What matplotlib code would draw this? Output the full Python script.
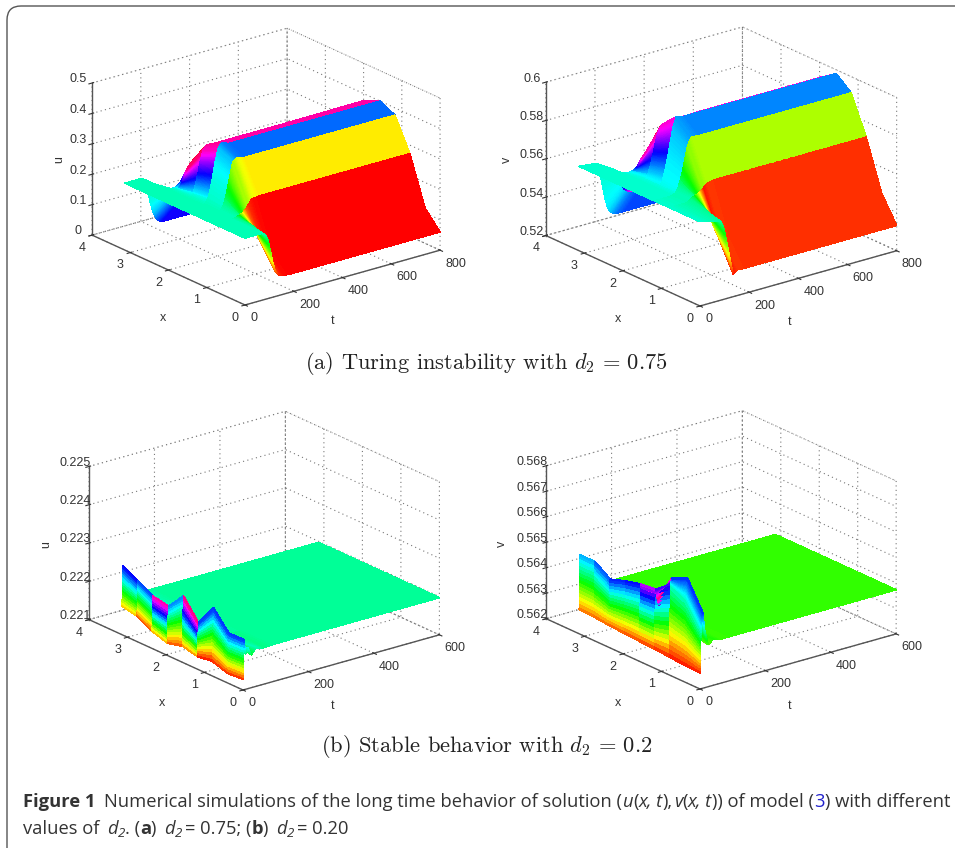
import numpy as np
import matplotlib
matplotlib.use('Agg')
import matplotlib.pyplot as plt
from matplotlib.patches import FancyBboxPatch
from matplotlib.transforms import IdentityTransform
from mpl_toolkits.mplot3d import proj3d

plt.rcParams.update({'font.family': ['Liberation Sans', 'DejaVu Sans'], 'grid.linestyle': (0, (1, 3)),
                     'grid.color': '#777777', 'grid.linewidth': 0.8})

x_nodes = [0, 0.39, 0.79, 1.18, 1.57, 1.96, 2.36, 2.75, 3.14]

# top row: one line per x node, one value per t
t_top = [0, 70, 85, 95, 105, 115, 125, 135, 150, 180, 300, 450, 600, 800]
u_top = [[.22, .22, .21, .19, .15, .11, .082, .07, .063, .06, .06, .06, .06, .06],
         [.22, .22, .22, .215, .2, .18, .155, .14, .125, .115, .115, .115, .115, .115],
         [.22, .22, .222, .225, .228, .232, .24, .25, .268, .272, .272, .272, .272, .272],
         [.22, .22, .224, .235, .26, .295, .335, .37, .382, .376, .376, .376, .376, .376],
         [.22, .22, .225, .24, .27, .31, .355, .39, .41, .40, .40, .40, .40, .40],
         [.22, .22, .224, .235, .26, .295, .335, .365, .38, .378, .378, .378, .379, .38],
         [.22, .22, .222, .225, .235, .25, .27, .285, .30, .30, .30, .30, .30, .30],
         [.22, .22, .215, .205, .19, .17, .155, .145, .14, .14, .14, .14, .14, .14],
         [.22, .22, .20, .17, .13, .10, .08, .068, .06, .06, .06, .06, .06, .06]]
v_top = [[.564, .562, .561, .558, .552, .545, .538, .5318, .5335, .5332, .5332, .5332, .5332, .5332],
         [.564, .563, .563, .562, .559, .555, .551, .548, .5465, .5465, .5465, .5465, .5465, .5465],
         [.564, .564, .565, .566, .5665, .567, .568, .569, .571, .572, .572, .572, .572, .572],
         [.564, .564, .565, .567, .571, .576, .582, .588, .592, .5915, .5915, .5915, .5915, .5915],
         [.564, .564, .565, .568, .573, .579, .586, .593, .599, .598, .598, .598, .598, .598],
         [.564, .564, .565, .567, .571, .576, .582, .587, .591, .592, .5925, .5925, .5925, .5925],
         [.564, .564, .564, .565, .566, .567, .569, .571, .573, .575, .575, .575, .575, .575],
         [.564, .564, .562, .559, .556, .553, .551, .550, .549, .549, .549, .549, .549, .549],
         [.564, .563, .558, .551, .544, .539, .536, .535, .534, .534, .534, .534, .534, .534]]

# bottom row
t_bot = [0, 3, 8, 15, 25, 40, 60, 90, 150, 300, 450, 600]
u_bot = [[.22128, .22231, .22192, .22206, .22186, .22201, .22195, .22197, .22197, .22197, .22197, .22197],
         [.22125, .22230, .22205, .22190, .22204, .22192, .22198, .22197, .22197, .22197, .22197, .22197],
         [.22138, .22278, .22240, .22225, .22205, .22195, .22198, .22197, .22197, .22197, .22197, .22197],
         [.22133, .22221, .22210, .22205, .22200, .22198, .22197, .22197, .22197, .22197, .22197, .22197],
         [.22142, .22273, .22245, .22230, .22215, .22205, .22200, .22197, .22197, .22197, .22197, .22197],
         [.22132, .22228, .22225, .22220, .22210, .22203, .22199, .22197, .22197, .22197, .22197, .22197],
         [.22145, .22236, .22230, .22222, .22212, .22204, .22200, .22197, .22197, .22197, .22197, .22197],
         [.22166, .22258, .22245, .22230, .22215, .22205, .22200, .22197, .22197, .22197, .22197, .22197],
         [.22174, .22279, .22260, .22240, .22220, .22207, .22200, .22197, .22197, .22197, .22197, .22197]]
v_bot = [[.56263, .56433, .56500, .56420, .56365, .56380, .56372, .56373, .56373, .56373, .56373, .56373],
         [.56265, .56524, .56605, .56500, .56380, .56370, .56374, .56373, .56373, .56373, .56373, .56373],
         [.56270, .56555, .56580, .56500, .56420, .56380, .56375, .56373, .56373, .56373, .56373, .56373],
         [.56275, .56509, .56470, .56430, .56400, .56385, .56376, .56373, .56373, .56373, .56373, .56373],
         [.56278, .56503, .56465, .56430, .56400, .56385, .56376, .56373, .56373, .56373, .56373, .56373],
         [.56282, .56488, .56460, .56430, .56400, .56385, .56376, .56373, .56373, .56373, .56373, .56373],
         [.56286, .56467, .56450, .56425, .56400, .56385, .56376, .56373, .56373, .56373, .56373, .56373],
         [.56292, .56509, .56470, .56430, .56400, .56385, .56376, .56373, .56373, .56373, .56373, .56373],
         [.56296, .56509, .56475, .56435, .56402, .56385, .56376, .56373, .56373, .56373, .56373, .56373]]

W, H = 955, 848
fig = plt.figure(figsize=(W/100, H/100), dpi=100, facecolor='white')
label_kw = dict(fontsize=9, color='#333333', ha='center', va='center')


def panel(t, Z, clim, tmax, tticks, zlim, zticks, zlabels, zname, front, right, lab_t, lab_x, lab_z):
    ax = fig.add_axes([0.1, 0.1, 400/W, 400/H], projection='3d', proj_type='ortho')
    ax.patch.set_visible(False)
    ax.view_init(elev=21, azim=-128.1)
    ax.set_xlim(0, tmax, view_margin=0)
    ax.set_ylim(0, 4, view_margin=0)
    ax.set_zlim(zlim[0], zlim[1], view_margin=0)
    ax.set_box_aspect((248, 248, 163), zoom=1.0)

    # finer facets along t only, like matlab's interpolated shading: colours stay smooth
    Z = np.array(Z, dtype=float)
    sub = 16
    t_f = np.concatenate([np.linspace(t[i], t[i+1], sub, endpoint=False) for i in range(len(t)-1)] + [[t[-1]]])
    Z_f = np.array([np.interp(t_f, t, row) for row in Z])
    T, X = np.meshgrid(t_f, x_nodes)
    # each band takes its colour from the node before it
    Cv = 0.5*(Z_f[:, :-1] + Z_f[:, 1:])
    Cv = np.vstack([Cv[:1], Cv[:-2]])
    colors = plt.cm.hsv(np.clip((Cv - clim[0])/(clim[1] - clim[0]), 0, 1))
    ax.plot_surface(T, X, Z_f, facecolors=colors, rstride=1, cstride=1, shade=False, linewidth=0.4, antialiased=False)

    ax.set_xticks(tticks)
    ax.set_yticks([0, 1, 2, 3, 4])
    ax.set_zticks(zticks)
    ax.set_zticklabels(zlabels)
    ax.tick_params(labelsize=9, colors='#333333')
    ax.tick_params(axis='x', pad=-3)
    ax.tick_params(axis='y', pad=-3)
    ax.tick_params(axis='z', pad=-2)
    for lab in ax.get_xticklabels():
        lab.set_ha('left')
    for lab in ax.get_yticklabels():
        lab.set_ha('right')
    for lab in ax.get_zticklabels():
        lab.set_va('baseline')
    for a in (ax.xaxis, ax.yaxis, ax.zaxis):
        a.pane.set_facecolor((1, 1, 1, 1))
        a.pane.set_edgecolor('#777777')
        a.pane.set_linestyle((0, (1, 3)))
        a.pane.set_linewidth(0.8)
        a.line.set_color('#555555')
        a.line.set_linewidth(1.0)

    # axis names sit at fixed spots in the picture
    fig.text(lab_t[0]/W, 1 - lab_t[1]/H, 't', **label_kw)
    fig.text(lab_x[0]/W, 1 - lab_x[1]/H, 'x', **label_kw)
    fig.text(lab_z[0]/W, 1 - lab_z[1]/H, zname, rotation=90, **label_kw)

    # put the box where it sits in the picture
    def px(p):
        ax.apply_aspect()
        xs, ys, _ = proj3d.proj_transform(p[0], p[1], p[2], ax.get_proj())
        return ax.transData.transform((xs, ys))
    p0, p1 = px((0, 0, zlim[0])), px((tmax, 0, zlim[0]))
    want0 = np.array([front[0], H - front[1]])
    want1 = np.array([right[0], H - right[1]])
    zoom = np.hypot(*(want1 - want0))/np.hypot(*(p1 - p0))
    ax.set_box_aspect((248, 248, 163), zoom=zoom)
    p0 = px((0, 0, zlim[0]))
    pos = ax.get_position()
    d = want0 - p0
    ax.set_position([pos.x0 + d[0]/W, pos.y0 + d[1]/H, pos.width, pos.height])
    return ax


panel(t_top, u_top, (.06, .41), 800, [0, 200, 400, 600, 800], (0, .5), [0, .1, .2, .3, .4, .5],
      ['0', '0.1', '0.2', '0.3', '0.4', '0.5'], 'u', (245, 305), (440, 250), (333, 321), (163, 318), (59, 160))
panel(t_top, v_top, (.5308, .6008), 800, [0, 200, 400, 600, 800], (.52, .6), [.52, .54, .56, .58, .6],
      ['0.52', '0.54', '0.56', '0.58', '0.6'], 'v', (700, 306), (897, 252), (790, 322), (618, 319), (507, 160))
panel(t_bot, u_bot, (.22125, .22289), 600, [0, 200, 400, 600], (.221, .225), [.221, .222, .223, .224, .225],
      ['0.221', '0.222', '0.223', '0.224', '0.225'], 'u', (243, 690), (440, 637), (333, 706), (162, 703), (46, 545))
panel(t_bot, v_bot, (.5626, .5663), 600, [0, 200, 400, 600], (.562, .568), [.562, .563, .564, .565, .566, .567, .568],
      ['0.562', '0.563', '0.564', '0.565', '0.566', '0.567', '0.568'], 'v', (700, 689), (897, 637), (790, 706), (618, 703), (502, 544))

# sub captions
sub_kw = dict(family='cmr10', math_fontfamily='cm', fontsize=16.2, color='#222222', ha='center', va='center')
fig.text(486/W, 1 - 363.5/H, r'(a) Turing instability with $d_2\,=\,0.75$', **sub_kw)
fig.text(487/W, 1 - 746.5/H, r'(b) Stable behavior with $d_2\,=\,0.2$', **sub_kw)

# caption, written piece by piece
renderer = fig.canvas.get_renderer()


def write_runs(x, y, runs):
    for r in runs:
        s, gap, kw = r
        kw = dict(kw)
        up = kw.pop('up', 0)
        size = kw.pop('size', 13.25)
        c = kw.pop('color', '#333333')
        tx = fig.text(x/W, 1 - (y - up)/H, s, fontsize=size, color=c, family='Open Sans', va='baseline', ha='left', **kw)
        x = tx.get_window_extent(renderer).x1 + gap


it = {'style': 'italic'}
bd = {'weight': 'bold'}
sb = {'style': 'italic', 'size': 9.5, 'up': -3}
write_runs(23, 807, [('Figure 1', 9, bd), ('Numerical simulations of the long time behavior of solution (', 0, {}),
                     ('u', 0, it), ('(', 0, {}), ('x, t', 0, it), ('),', 1, {}), ('v', 0, it), ('(', 0, {}),
                     ('x, t', 0, it), (')) of model (', 0, {}), ('3', 0, {'color': '#2222cc'}),
                     (') with different', 0, {})])
write_runs(23, 834, [('values of ', 3, {}), ('d', 0, it), ('2', 0, sb), ('. (', 0, {}), ('a', 0, bd), (') ', 3, {}),
                     ('d', 0, it), ('2', 3, sb), ('= 0.75; (', 0, {}), ('b', 0, bd), (') ', 3, {}), ('d', 0, it),
                     ('2', 3, sb), ('= 0.20', 0, {})])

# outer rounded frame of the figure, runs off the right and bottom edges
fig.add_artist(FancyBboxPatch((7, -20), 990, 862, boxstyle='round,pad=0,rounding_size=14', fill=False,
                              edgecolor='#555555', linewidth=1.0, transform=IdentityTransform()))

fig.savefig('out.png', dpi=100)
